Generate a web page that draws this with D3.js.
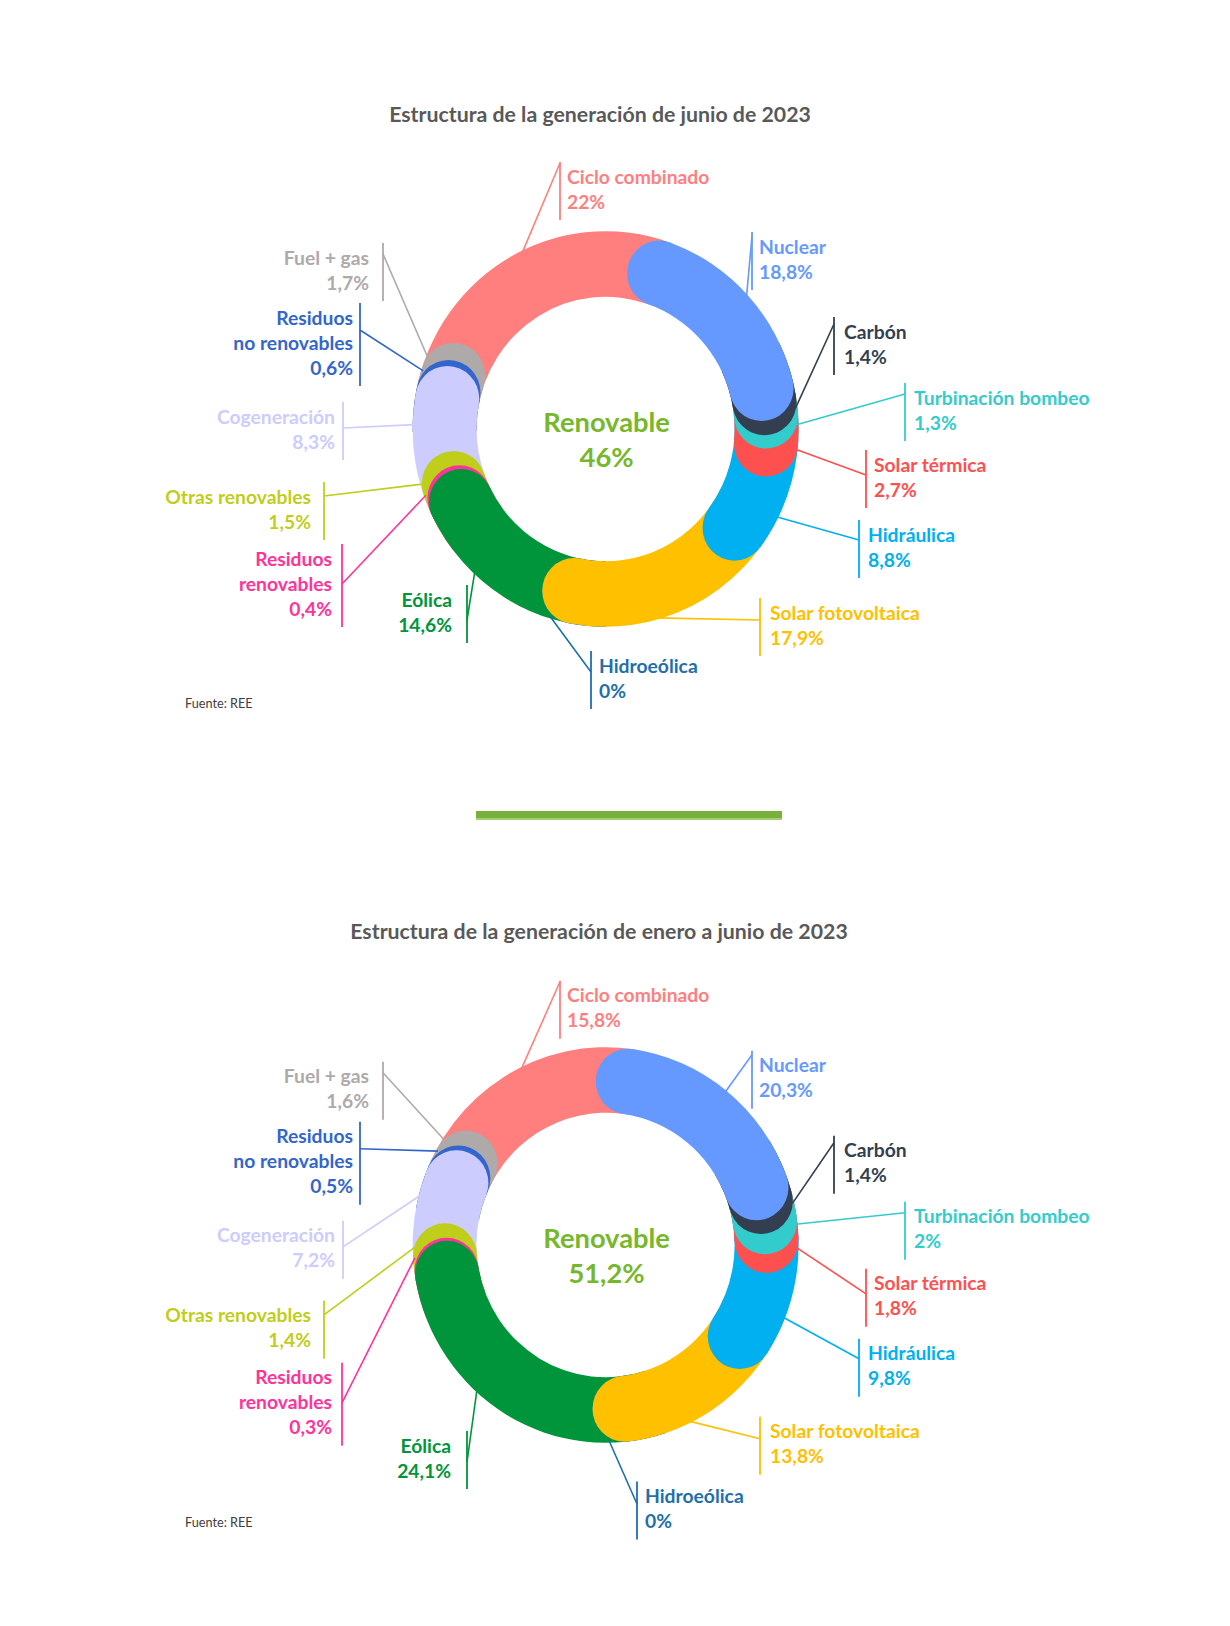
<!DOCTYPE html>
<html><head><meta charset="utf-8">
<script src="https://cdn.jsdelivr.net/npm/d3@7/dist/d3.min.js"></script>
<style>
html,body{margin:0;padding:0;background:#fff;}
svg{display:block;font-family:Lato,"Open Sans",sans-serif;}
</style></head><body>
<svg id="c" width="1230" height="1626"></svg>
<script>
// ---------- DATA ----------
const categories = ["Ciclo combinado","Nuclear","Carbón","Turbinación bombeo","Solar térmica","Hidráulica","Solar fotovoltaica","Hidroeólica","Eólica","Residuos renovables","Otras renovables","Cogeneración","Residuos no renovables","Fuel + gas"];
const categoryLines = [["Ciclo combinado"],["Nuclear"],["Carbón"],["Turbinación bombeo"],["Solar térmica"],["Hidráulica"],["Solar fotovoltaica"],["Hidroeólica"],["Eólica"],["Residuos","renovables"],["Otras renovables"],["Cogeneración"],["Residuos","no renovables"],["Fuel + gas"]];
const juneValues    = [22, 18.8, 1.4, 1.3, 2.7, 8.8, 17.9, 0, 14.6, 0.4, 1.5, 8.3, 0.6, 1.7];
const janJuneValues = [15.8, 20.3, 1.4, 2, 1.8, 9.8, 13.8, 0, 24.1, 0.3, 1.4, 7.2, 0.5, 1.6];
const renewableShare = [46, 51.2];
const chartTitles = ["Estructura de la generación de junio de 2023","Estructura de la generación de enero a junio de 2023"];
const centerLabel = "Renovable";
const sourceText = "Fuente: REE";

// ---------- STYLE / LAYOUT ----------
const colors = ["#FF7F7F","#6699FF","#333F50","#33CCCC","#FF5050","#00B0F0","#FFC000","#1F78B4","#00953A","#FF3399","#BFCE1A","#CCCCFF","#3366CC","#AEAAAA"];
const labelColors = ["#FF7F7F","#6699FF","#333F50","#33CCCC","#FF5050","#00B0F0","#FFC000","#1F6FAA","#00953A","#FF3399","#BFCE1A","#CCCCFF","#3366CC","#AEAAAA"];
// label layout for the first chart: [textX, firstLineY, anchor, barX, attachY]
const labelLayout1 = [
  [567, 176, "start", 560, 163],
  [759, 246, "start", 752, 236],
  [844, 331, "start", 834, 324],
  [914, 397, "start", 905, 394],
  [874, 464, "start", 866, 475],
  [868, 534, "start", 859, 540],
  [770, 612, "start", 760, 620],
  [599, 665, "start", 591, 672],
  [452, 599, "end",   467, 620],
  [332, 558, "end",   342, 584],
  [311, 496, "end",   324, 496],
  [335, 416, "end",   343, 428],
  [353, 317, "end",   360, 330],
  [369, 257, "end",   383, 254]
];
const dy2 = 818.8;
const labelLayout2 = labelLayout1.map(l => [l[0], l[1]+dy2, l[2], l[3], l[4]+dy2]);
labelLayout2[7] = [645, 1495.5, "start", 637, 1504];
labelLayout2[8] = [451, 1445, "end", 467, 1462];

const charts = [
  {values: juneValues, renew: renewableShare[0], title: chartTitles[0], cx: 605.6, cy: 429, titleX: 600, titleY: 114, rot: 8 - 360*juneValues[0]/100, labels: labelLayout1, srcY: 703},
  {values: janJuneValues, renew: renewableShare[1], title: chartTitles[1], cx: 605.6, cy: 1245, titleX: 599, titleY: 931, rot: -3.5 - 360*janJuneValues[0]/100, labels: labelLayout2, srcY: 1522}
];

const fmt = v => String(v).replace(".", ",") + "%";

const svg = d3.select("#c");
const R = 193, r = 129, rm = (R + r) / 2, rho = (R - r) / 2, delta = rho / rm, sy = 1.025;
const lineH = 25;

charts.forEach(ch => {
  const g = svg.append("g");
  g.append("text").attr("x", ch.titleX).attr("y", ch.titleY).attr("text-anchor","middle")
    .attr("dominant-baseline","central").attr("font-size", 21.3).attr("font-weight", 700)
    .attr("fill", "#595959").text(ch.title);

  const rot = ch.rot * Math.PI / 180;
  const pie = d3.pie().sort(null).value(d => d).startAngle(rot).endAngle(rot + 2*Math.PI);
  const arcs = pie(ch.values);
  const n = arcs.length;
  const arcGen = d3.arc().innerRadius(r).outerRadius(R);
  const donut = g.append("g").attr("transform", `translate(${ch.cx},${ch.cy}) scale(1,${sy})`);
  // draw order: first slice, then counter-clockwise, ending with the second slice on top
  const order = [0].concat(d3.range(n-1, 0, -1));
  const pt = (a, rad) => [rad*Math.sin(a), -rad*Math.cos(a)];
  order.forEach((i, k) => {
    const a = arcs[i], s = a.startAngle, e = a.endAngle;
    const sg = donut.append("g").attr("fill", colors[i]);
    let b0, b1, caps;
    if (k === 0) { b0 = s - delta; b1 = e + delta; caps = []; }
    else if (k === n-1) { b0 = s + delta; b1 = e; caps = [s + delta, e]; }
    else { b0 = s - delta; b1 = e; caps = [e]; }
    if (b1 > b0) sg.append("path").attr("d", arcGen({startAngle: b0, endAngle: b1}));
    caps.forEach(c => { const p = pt(c, rm); sg.append("circle").attr("cx", p[0]).attr("cy", p[1]).attr("r", rho); });
  });

  // labels + leaders
  arcs.forEach((a, i) => {
    const L = ch.labels[i];
    const lines = categoryLines[i].concat([fmt(ch.values[i])]);
    const col = labelColors[i];
    const ang = (a.startAngle + a.endAngle)/2 + delta/2;
    const p = pt(ang, R - 2);
    const px = ch.cx + p[0], py = ch.cy + p[1]*sy;
    const yLast = L[1] + (lines.length-1)*lineH;
    g.append("line").attr("x1", px).attr("y1", py).attr("x2", L[3]).attr("y2", L[4])
      .attr("stroke", col).attr("stroke-width", 1.6);
    g.append("line").attr("x1", L[3]).attr("x2", L[3]).attr("y1", L[1]-14).attr("y2", yLast+19)
      .attr("stroke", col).attr("stroke-width", 1.8);
    lines.forEach((t, j) => {
      g.append("text").attr("x", L[0]).attr("y", L[1] + j*lineH).attr("text-anchor", L[2])
        .attr("dominant-baseline","central").attr("font-size", 19.3).attr("font-weight", 700)
        .attr("fill", col).text(t);
    });
  });

  // centre
  g.append("text").attr("x", ch.cx+1).attr("y", ch.cy - 8).attr("text-anchor","middle")
    .attr("dominant-baseline","central").attr("font-size", 27.3).attr("font-weight", 700)
    .attr("fill", "#77B72C").text(centerLabel);
  g.append("text").attr("x", ch.cx+1).attr("y", ch.cy + 27).attr("text-anchor","middle")
    .attr("dominant-baseline","central").attr("font-size", 27.3).attr("font-weight", 700)
    .attr("fill", "#77B72C").text(fmt(ch.renew));

  g.append("text").attr("x", 185).attr("y", ch.srcY).attr("dominant-baseline","central")
    .attr("font-size", 12.7).attr("fill", "#404040").text(sourceText);
});

// divider
svg.append("rect").attr("x", 476).attr("y", 811).attr("width", 306).attr("height", 7).attr("fill", "#77B03A");
svg.append("rect").attr("x", 476).attr("y", 818).attr("width", 306).attr("height", 2).attr("fill", "#A5CF6E");
</script>
</body></html>
